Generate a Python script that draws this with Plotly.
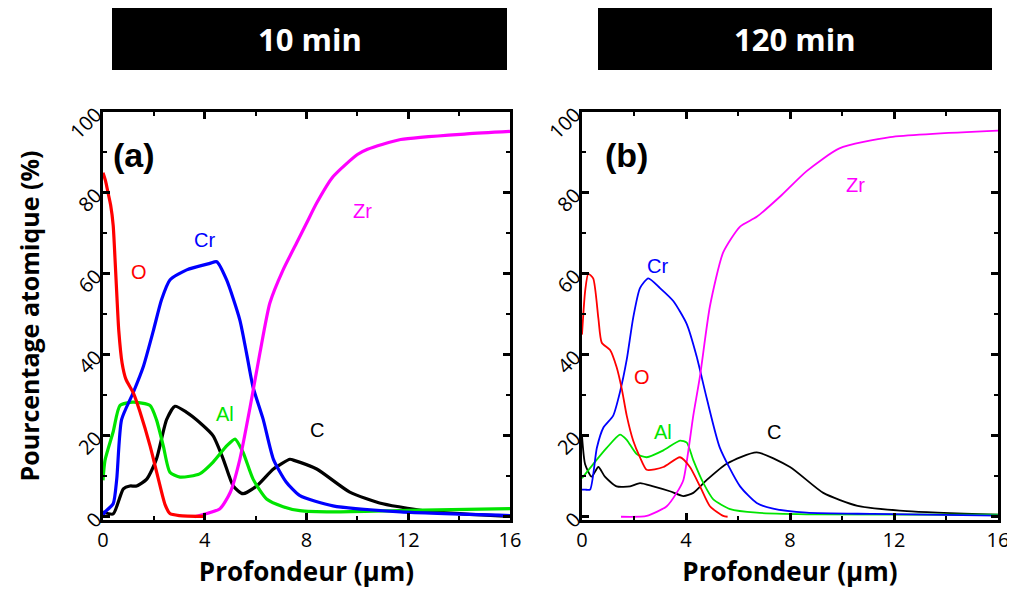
import plotly.graph_objects as go
from plotly.subplots import make_subplots

# ---------------- data: panel (a) 10 min ----------------
a_O_x = [0, 0.1, 0.2, 0.3, 0.4, 0.47, 0.55, 0.62, 0.75, 0.9, 1.2, 1.45, 1.85, 2.17, 2.44, 2.63, 3.0, 4.0]
a_O_y = [85, 83, 80, 77, 72, 64, 54, 46, 38, 34, 30.5, 26, 17.5, 9.5, 3, 0.8, 0.3, 0.1]

a_Cr_x = [0, 0.08, 0.4, 0.54, 0.73, 1.19, 1.58, 1.98, 2.3, 2.63, 3.29, 4.2, 4.47, 4.86, 5.38, 5.64, 5.9, 6.3, 6.7, 7.2, 7.74, 9.04, 11.7, 16]
a_Cr_y = [0.5, 1.2, 3.2, 9.3, 24, 30.7, 37, 46, 53.6, 58.5, 61, 62.6, 63, 58.5, 48.6, 40.5, 32, 24, 14.2, 8.6, 5.2, 2.7, 1.2, 0.3]

a_Al_x = [0, 0.08, 0.4, 0.67, 1.18, 1.85, 2.1, 2.37, 2.63, 3.03, 3.8, 4.33, 4.86, 5.19, 5.5, 5.9, 6.43, 7.08, 7.74, 9.04, 12, 16]
a_Al_y = [9, 14, 21, 27.5, 28.3, 27.5, 24, 17.5, 11, 9.8, 10.6, 13.5, 17.5, 19.2, 16, 9.3, 4.4, 2.5, 1.5, 1.2, 1.6, 2.0]

a_C_x = [0, 0.4, 0.8, 1.06, 1.32, 1.72, 2.1, 2.5, 2.83, 3.29, 3.8, 4.33, 4.73, 5.12, 5.5, 6.04, 6.7, 7.35, 7.48, 8.4, 9.7, 11, 13, 16]
a_C_y = [1.2, 0.7, 6.9, 7.6, 7.6, 9.3, 14.2, 24, 27.3, 25.8, 23.3, 20, 14.2, 7.6, 5.7, 7.6, 11.8, 14.2, 14.0, 11.8, 6.1, 3.2, 1.2, 0.1]

a_Zr_x = [3.6, 3.8, 4.6, 5.0, 5.38, 5.78, 6.17, 6.56, 7.08, 7.6, 8.0, 8.4, 9.04, 10.0, 10.4, 11.7, 14.3, 16]
a_Zr_y = [0, 0.3, 2, 6, 14.2, 27, 40.5, 52.8, 61, 67.5, 72.5, 77.5, 84, 89.5, 90.8, 93.2, 94.6, 95.2]

# ---------------- data: panel (b) 120 min ----------------
b_O_x = [0, 0.12, 0.24, 0.43, 0.63, 0.76, 1.08, 1.33, 1.53, 1.72, 1.97, 2.23, 2.49, 3.13, 3.77, 4.15, 4.54, 4.92, 5.43, 5.6]
b_O_y = [45, 55.7, 60, 58.9, 49, 43, 41.2, 37, 31.6, 25, 18.8, 14.7, 11.6, 12.3, 14.7, 12.3, 7.5, 2.6, 0.2, 0]

b_Cr_x = [0, 0.12, 0.31, 0.57, 0.82, 1.2, 1.46, 1.72, 1.97, 2.23, 2.55, 3.0, 3.51, 4.03, 4.41, 4.8, 5.3, 6.08, 6.72, 7.35, 8.64, 11.2, 16]
b_Cr_y = [6.7, 6.7, 6.7, 17, 22, 25, 30.8, 38.8, 49.2, 56.5, 58.9, 56.5, 53.3, 47.6, 39.6, 29.2, 17.1, 7.5, 3.4, 2.0, 1.0, 0.7, 0.3]

b_Al_x = [0, 0.43, 0.95, 1.46, 1.72, 2.1, 2.49, 3.13, 3.77, 4.03, 4.28, 4.67, 5.05, 5.7, 6.72, 9, 16]
b_Al_y = [9.5, 13, 17, 20.3, 19, 15.5, 14.7, 16.4, 18.8, 18.3, 14, 8.3, 4.3, 1.9, 1.0, 0.6, 0.5]

b_C_x = [0, 0.12, 0.37, 0.63, 0.88, 1.33, 1.85, 2.23, 2.74, 3.38, 3.9, 4.28, 4.8, 5.57, 6.72, 8.0, 9.28, 10.6, 12.5, 16]
b_C_y = [20, 13, 9.9, 12.3, 9.9, 7.5, 7.5, 8.3, 7.5, 6.3, 5.1, 5.9, 9.1, 13.1, 15.9, 12.3, 5.9, 2.7, 1.4, 0.5]

b_Zr_x = [1.5, 2.49, 3.26, 3.64, 3.9, 4.28, 4.54, 4.92, 5.43, 6.08, 6.72, 7.6, 8.64, 9.9, 11.85, 16]
b_Zr_y = [0, 0.2, 2.6, 5.9, 9.1, 25, 34.8, 52, 65.3, 71.7, 74.1, 79, 85.4, 91, 93.8, 95.4]

COL = {"O": "#FF0000", "Cr": "#0000FF", "Al": "#00E400", "C": "#000000", "Zr": "#FF00FF"}

fig = make_subplots(rows=1, cols=2, horizontal_spacing=0.08)

panels = [
    (1, 3.2, [("C", a_C_x, a_C_y), ("Al", a_Al_x, a_Al_y), ("Cr", a_Cr_x, a_Cr_y),
              ("Zr", a_Zr_x, a_Zr_y), ("O", a_O_x, a_O_y)]),
    (2, 1.8, [("C", b_C_x, b_C_y), ("Al", b_Al_x, b_Al_y), ("Cr", b_Cr_x, b_Cr_y),
              ("Zr", b_Zr_x, b_Zr_y), ("O", b_O_x, b_O_y)]),
]
for col, lw, series in panels:
    for name, xs, ys in series:
        fig.add_trace(go.Scatter(x=xs, y=ys, mode="lines", name=name, showlegend=False,
                                 line=dict(color=COL[name], width=lw, shape="spline", smoothing=0.6)),
                      row=1, col=col)

# page has an 8px body margin: figure coordinates = page coordinates - 8
OFF = 8
W, H = 1015 - OFF, 593 - OFF
ml = 103 - OFF
mr = W - (998 - OFF)
mt = 112 - OFF
mb = H - (520 - OFF)
pw = W - ml - mr
ph = H - mt - mb


def px2fx(px):
    return (px - OFF - ml) / pw


def py2fy(py):
    return 1 - (py - OFF - mt) / ph


xa_dom = [0, px2fx(510)]
xb_dom = [px2fx(582), 1]

tickfont = dict(family="Open Sans", size=20, color="black")
axis_common = dict(showline=True, linewidth=3, linecolor="black", mirror="ticks",
                   ticks="inside", ticklen=7, tickwidth=3, tickcolor="black",
                   showgrid=False, zeroline=False, tickfont=tickfont, automargin=False)

for i, dom in ((1, xa_dom), (2, xb_dom)):
    fig.update_xaxes(row=1, col=i, domain=dom, range=[0, 16], tickvals=[0, 4, 8, 12, 16],
                     minor=dict(ticks="inside", ticklen=4, tickwidth=2, tickcolor="black", dtick=2, tick0=0),
                     title=dict(text="<b>Profondeur (µm)</b>", font=dict(family="Open Sans", size=26, color="black"), standoff=1),
                     **axis_common)
    fig.update_yaxes(row=1, col=i, range=[-0.8, 100], tickvals=[0, 20, 40, 60, 80, 100], tickangle=-45,
                     minor=dict(ticks="inside", ticklen=4, tickwidth=2, tickcolor="black", dtick=10, tick0=0),
                     **axis_common)

fig.update_yaxes(row=1, col=1, title=dict(text="<b>Pourcentage atomique (%)</b>",
                                          font=dict(family="Open Sans", size=25, color="black"), standoff=18))

# title bars
bars = [(112, 507, "10 min"), (598, 992, "120 min")]
for x0, x1, txt in bars:
    fig.add_shape(type="rect", xref="paper", yref="paper", x0=px2fx(x0), x1=px2fx(x1),
                  y0=py2fy(70), y1=py2fy(7), fillcolor="black", line=dict(width=0), layer="above")
    fig.add_annotation(xref="paper", yref="paper", x=px2fx((x0 + x1) / 2), y=py2fy(39),
                       text="<b>" + txt + "</b>", showarrow=False,
                       font=dict(family="Open Sans", size=31, color="white"), xanchor="center", yanchor="middle")

# panel labels and element labels
labels = [
    ("x", "y", 1.2, 89.5, "<b>(a)</b>", "black", 34),
    ("x", "y", 1.4, 60.5, "O", COL["O"], 20),
    ("x", "y", 4.0, 68.5, "Cr", COL["Cr"], 20),
    ("x", "y", 10.2, 75.5, "Zr", COL["Zr"], 20),
    ("x", "y", 4.8, 25.5, "Al", COL["Al"], 20),
    ("x", "y", 8.4, 21.5, "C", "black", 20),
    ("x2", "y2", 1.7, 89.5, "<b>(b)</b>", "black", 34),
    ("x2", "y2", 2.9, 62.0, "Cr", COL["Cr"], 20),
    ("x2", "y2", 2.3, 34.5, "O", COL["O"], 20),
    ("x2", "y2", 3.1, 21.0, "Al", COL["Al"], 20),
    ("x2", "y2", 7.4, 21.0, "C", "black", 20),
    ("x2", "y2", 10.5, 82.0, "Zr", COL["Zr"], 20),
]
for xr, yr, x, y, t, c, s in labels:
    fig.add_annotation(xref=xr, yref=yr, x=x, y=y, text=t, showarrow=False,
                       font=dict(family="Liberation Sans", size=s, color=c))

fig.update_layout(width=W, height=H, margin=dict(l=ml, r=mr, t=mt, b=mb),
                  plot_bgcolor="white", paper_bgcolor="white")

fig.write_html("out.html")
